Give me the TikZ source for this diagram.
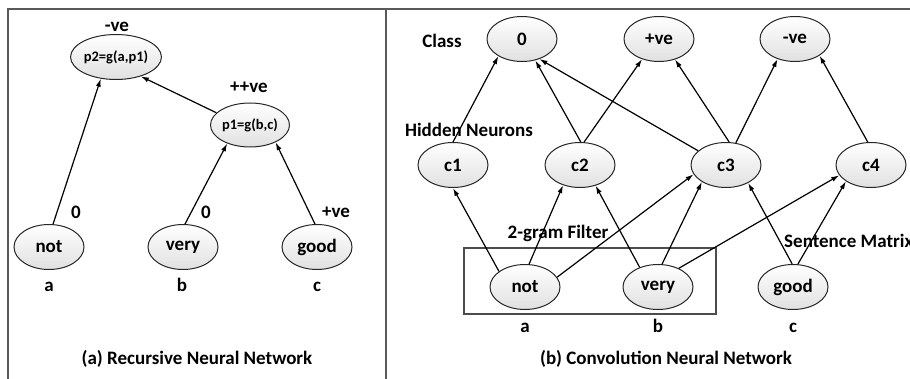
\documentclass[tikz,border=0pt]{standalone}
\usepackage{fontspec}
\setmainfont{Carlito}
\usetikzlibrary{arrows.meta}
\usetikzlibrary{shapes.geometric}

\begin{document}
\begin{tikzpicture}[x=1pt, y=-1pt, font=\bfseries\fontsize{19}{21}\selectfont,
		neuron/.style={ellipse, draw=black!85, line width=1pt, top color=white,
			bottom color=black!12, minimum width=70pt, minimum height=45pt, inner sep=0pt},
		link/.style={-{Latex[length=8pt,width=5pt]}, line width=1.2pt},
		tag/.style={inner sep=0pt, anchor=base}]
		\useasboundingbox (0,0) rectangle (910,379);

		% Frame
		\draw (8,379) -- (8,9) -- (910,9) [color=black!65, line width=1.5pt];
		\draw (386,9) -- (386,379) [color=black!65, line width=1.5pt];

		% (a) Recursive Neural Network
		\node[neuron, minimum width=65pt, font=\bfseries\fontsize{14.5}{16}\selectfont] (p2) at (116,57) {p2=g(a,p1)};
		\node[neuron, minimum width=74pt, minimum height=44pt, font=\bfseries\fontsize{14.5}{16}\selectfont] (p1) at (250,125) {p1=g(b,c)};
		\node[neuron] (lnot) at (49,247) {not};
		\node[neuron] (lvery) at (183,247) {very};
		\node[neuron] (lgood) at (317,247) {good};
		\node[tag] (p2lab) at (117,32) {-ve};
		\node[tag] (p1lab) at (249,93) {++ve};
		\node[tag] (notlab) at (76,219) {0};
		\node[tag] (verylab) at (206,219) {0};
		\node[tag] (goodlab) at (336,218) {+ve};
		\foreach \x/\w/\n in {49/a/la, 182/b/lb, 317/c/lc}
			\node[tag] (\n) at (\x,292) {\w};
		\node[tag] (capa) at (197,364) {(a) Recursive Neural Network};
		\foreach \a/\b in {lnot.80/p2.235, p1.160/p2.322, lvery.85/p1.219, lgood.95/p1.326}
			\draw[link] (\a) -- (\b);

		% (b) Convolution Neural Network
		\draw (464,248) rectangle (716,314) [color=black!70, line width=1.2pt];
		\node[tag] (classlab) at (442,48) {Class};
		\node[tag] (hidlab) at (469,137) {Hidden Neurons};
		\node[tag] (filtlab) at (558,239) {2-gram Filter};
		\node[tag, anchor=base west] (matlab) at (784,248) {Sentence Matrix};
		\node[neuron] (zero) at (522,39) {0};
		\node[neuron] (pos) at (659,39) {+ve};
		\node[neuron] (neg) at (795,39) {-ve};
		\node[neuron] (c1) at (453,165) {c1};
		\node[neuron] (c2) at (580,165) {c2};
		\node[neuron] (c3) at (726,165) {c3};
		\node[neuron] (c4) at (871,165) {c4};
		\node[neuron] (cnot) at (525,287) {not};
		\node[neuron] (cvery) at (658,287) {very};
		\node[neuron] (cgood) at (793,287) {good};
		\foreach \x/\w/\n in {525/a/ra, 658/b/rb, 793/c/rc}
			\node[tag] (\n) at (\x,332) {\w};
		\node[tag] (capb) at (666,364) {(b) Convolution Neural Network};

		% Hidden to class
		\foreach \a/\b in {c1.90/zero.216, c2.88/zero.302, c3.153/zero.311, c2.80/pos.230,
				c3.82/pos.308, c3.66/neg.229, c4.98/neg.326}
			\draw[link] (\a) -- (\b);
		% Words to hidden
		\foreach \a/\b in {cnot.149/c1.270, cnot.80/c2.230, cnot.17/c3.196, cvery.133/c2.307,
				cvery.80/c3.215, cvery.42/c4.198, cgood.92/c3.321, cgood.78/c4.213}
			\draw[link] (\a) -- (\b);
	\end{tikzpicture}
\end{document}
